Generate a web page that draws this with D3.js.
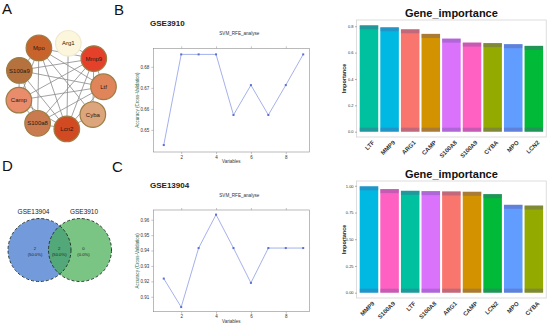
<!DOCTYPE html>
<html>
<head>
<meta charset="utf-8">
<script src="https://cdn.jsdelivr.net/npm/d3@7"></script>
<style>
  html, body { margin: 0; padding: 0; background: #fff; }
  text { font-family: "Liberation Sans", Arial, Helvetica, sans-serif; }
</style>
</head>
<body>
<div id="wrapper"></div>
<script>
// ---- data ----
const netNodes = ['Arg1', 'Mmp9', 'Ltf', 'Cyba', 'Lcn2', 'S100a8', 'Camp', 'S100a9', 'Mpo'];
const netColors = ['#fbf6dc', '#e5412a', '#e0845a', '#dca57c', '#d24a22', '#c97b4f', '#e88c6c', '#b5713e', '#c8632c'];
const netEdges = [
	['Arg1', 'Mmp9'], ['Arg1', 'Lcn2'],
	['Mmp9', 'Mpo'], ['Mmp9', 'Ltf'], ['Mmp9', 'Cyba'], ['Mmp9', 'Lcn2'], ['Mmp9', 'S100a8'], ['Mmp9', 'Camp'], ['Mmp9', 'S100a9'],
	['Lcn2', 'Mpo'], ['Lcn2', 'Ltf'], ['Lcn2', 'Cyba'], ['Lcn2', 'S100a8'], ['Lcn2', 'Camp'], ['Lcn2', 'S100a9'],
	['Mpo', 'Ltf'], ['Mpo', 'S100a8'], ['Mpo', 'Camp'], ['Mpo', 'S100a9'], ['Mpo', 'Cyba'],
	['S100a9', 'Ltf'], ['S100a9', 'S100a8'], ['S100a9', 'Camp'],
	['S100a8', 'Ltf'], ['S100a8', 'Camp'], ['Ltf', 'Camp']
];

const rfeVars = [1, 2, 3, 4, 5, 6, 7, 8, 9];
const accGSE3910 = [0.6428, 0.6859, 0.6859, 0.6859, 0.6571, 0.6713, 0.6571, 0.6713, 0.6859];
const accGSE13904 = [0.9218, 0.9033, 0.9416, 0.9633, 0.9416, 0.9190, 0.9416, 0.9416, 0.9416];

const genesTop = ['LTF', 'MMP9', 'ARG1', 'CAMP', 'S100A8', 'S100A9', 'CYBA', 'MPO', 'LCN2'];
const impTop = [0.807, 0.792, 0.777, 0.742, 0.706, 0.676, 0.672, 0.664, 0.651];
const genesBottom = ['MMP9', 'S100A9', 'LTF', 'S100A8', 'ARG1', 'CAMP', 'LCN2', 'MPO', 'CYBA'];
const impBottom = [0.995, 0.969, 0.953, 0.950, 0.947, 0.944, 0.922, 0.822, 0.815];
const geneColors = {
	ARG1: '#F8766D', CAMP: '#D39200', CYBA: '#93AA00', LCN2: '#00BA38', LTF: '#00C19F',
	MMP9: '#00B9E3', MPO: '#619CFF', S100A8: '#DB72FB', S100A9: '#FF61C3'
};

const vennSets = ['GSE13904', 'GSE3910'];
const vennCounts = [2, 2, 0];
const vennPct = ['(50.0%)', '(50.0%)', '(0.0%)'];

(() => {
	const svg = d3.select('#wrapper').append('svg')
		.attr('width', 550)
		.attr('height', 327)
		.style('display', 'block');
	svg.append('rect').attr('width', 550).attr('height', 327).attr('fill', '#fff');

	// panel letters
	[['A', 2, 14], ['B', 114, 15], ['C', 112, 172], ['D', 2, 171]].forEach(([t, x, y]) => {
		svg.append('text').attr('x', x).attr('y', y).attr('font-size', 15).attr('fill', '#111').text(t);
	});

	// ---- A: network ----
	const drawNetwork = () => {
		const g = svg.append('g');
		const cx = 60, cy = 86, R = 43.5;
		const angle = d3.scaleLinear().domain([0, netNodes.length]).range([-79 * Math.PI / 180, 281 * Math.PI / 180]);
		const pos = {};
		netNodes.forEach((n, i) => {
			pos[n] = { x: cx + R * Math.cos(angle(i)), y: cy + R * Math.sin(angle(i)), c: netColors[i], name: n };
		});
		g.selectAll('line')
			.data(netEdges)
			.enter()
			.append('line')
			.attr('x1', (d) => pos[d[0]].x)
			.attr('y1', (d) => pos[d[0]].y)
			.attr('x2', (d) => pos[d[1]].x)
			.attr('y2', (d) => pos[d[1]].y)
			.attr('stroke', '#8a8a8a')
			.attr('stroke-width', 0.8);
		const node = g.selectAll('g.node')
			.data(Object.values(pos))
			.enter()
			.append('g')
			.attr('transform', (d) => 'translate(' + d.x + ',' + d.y + ')');
		node.append('circle')
			.attr('r', 12.8)
			.attr('fill', (d) => d.c)
			.attr('stroke', (d) => d.name === 'Arg1' ? '#f1ead0' : '#9c7d45')
			.attr('stroke-width', 1.2);
		node.append('text')
			.attr('text-anchor', 'middle')
			.attr('dy', '0.35em')
			.attr('font-size', 6)
			.attr('fill', '#2a1a10')
			.text((d) => d.name);
	};

	// ---- B / C: RFE line charts ----
	const drawRfe = (values, title, setName, top, bottom, yDomain, yTicks) => {
		const left = 153.3, right = 309.3;
		const x = d3.scaleLinear().domain([0.4, 9.35]).range([left, right]);
		const y = d3.scaleLinear().domain(yDomain).range([bottom, top]);
		const g = svg.append('g');

		g.append('text').attr('x', 150).attr('y', top - 22).attr('font-size', 8)
			.attr('font-weight', 'bold').attr('fill', '#222').text(setName);
		g.append('text').attr('x', (left + right) / 2 + 8).attr('y', top - 13).attr('font-size', 4.6)
			.attr('text-anchor', 'middle').attr('fill', '#333').text(title);

		g.append('rect').attr('x', left).attr('y', top).attr('width', right - left).attr('height', bottom - top)
			.attr('fill', 'none').attr('stroke', '#8c8c8c').attr('stroke-width', 0.6);

		const yAxis = g.append('g').attr('transform', 'translate(' + left + ',0)')
			.call(d3.axisLeft(y).tickValues(yTicks).tickFormat(d3.format('.2f')).tickSize(2).tickPadding(2));
		const xAxis = g.append('g').attr('transform', 'translate(0,' + bottom + ')')
			.call(d3.axisBottom(x).tickValues([2, 4, 6, 8]).tickSize(2).tickPadding(1.5));
		const xTop = g.append('g').attr('transform', 'translate(0,' + top + ')')
			.call(d3.axisTop(x).tickValues([2, 4, 6, 8]).tickSize(2).tickFormat(''));
		[yAxis, xAxis, xTop].forEach((a) => {
			a.select('.domain').remove();
			a.selectAll('line').attr('stroke', '#8c8c8c').attr('stroke-width', 0.5);
			a.selectAll('text').attr('font-size', 4.5).attr('fill', '#333')
				.style('font-family', '"Liberation Sans", Arial, sans-serif');
		});

		g.append('text').attr('x', (left + right) / 2).attr('y', bottom + 11).attr('font-size', 4.5)
			.attr('text-anchor', 'middle').attr('fill', '#333').text('Variables');
		g.append('text')
			.attr('transform', 'translate(' + (left - 14) + ',' + ((top + bottom) / 2) + ') rotate(-90)')
			.attr('font-size', 4.5).attr('text-anchor', 'middle').attr('fill', '#2f6a4a')
			.text('Accuracy (Cross-Validation)');

		const line = d3.line().x((d, i) => x(rfeVars[i])).y((d) => y(d));
		g.append('path').datum(values).attr('d', line)
			.attr('fill', 'none').attr('stroke', '#8d9de6').attr('stroke-width', 0.8);
		g.selectAll('rect.pt')
			.data(values)
			.enter()
			.append('rect')
			.attr('x', (d, i) => x(rfeVars[i]) - 1)
			.attr('y', (d) => y(d) - 1)
			.attr('width', 2).attr('height', 2)
			.attr('fill', '#5b6fd0');
	};

	// ---- bar charts ----
	const drawBars = (genes, values, top, bottom, ticks, fmt) => {
		const left = 356.6, right = 546.2;
		const maxV = d3.max(values);
		const x = d3.scaleBand().domain(genes).range([left, right]).paddingInner(0.1).paddingOuter(0.15);
		const y = d3.scaleLinear().domain([-0.05 * maxV, 1.05 * maxV]).range([bottom, top]);
		const g = svg.append('g');

		g.append('text').attr('x', (left + right) / 2).attr('y', top - 3).attr('font-size', 11)
			.attr('font-weight', 'bold').attr('text-anchor', 'middle').attr('fill', '#111').text('Gene_importance');

		g.selectAll('rect.bar')
			.data(genes)
			.enter()
			.append('rect')
			.attr('x', (d) => x(d))
			.attr('y', (d, i) => y(values[i]))
			.attr('width', x.bandwidth())
			.attr('height', (d, i) => y(0) - y(values[i]))
			.attr('fill', (d) => geneColors[d]);
		// darker tinted bands at bar top and bottom
		g.selectAll('rect.bandTop')
			.data(genes)
			.enter()
			.append('rect')
			.attr('x', (d) => x(d))
			.attr('y', (d, i) => y(values[i]))
			.attr('width', x.bandwidth())
			.attr('height', 4)
			.attr('fill', 'rgba(95,80,150,0.35)');
		g.selectAll('rect.bandBot')
			.data(genes)
			.enter()
			.append('rect')
			.attr('x', (d) => x(d))
			.attr('y', y(0) - 4)
			.attr('width', x.bandwidth())
			.attr('height', 4)
			.attr('fill', 'rgba(95,80,150,0.35)');

		g.append('rect').attr('x', left).attr('y', top).attr('width', right - left).attr('height', bottom - top)
			.attr('fill', 'none').attr('stroke', '#cfcfcf').attr('stroke-width', 0.7);

		const yAxis = g.append('g').attr('transform', 'translate(' + left + ',0)')
			.call(d3.axisLeft(y).tickValues(ticks).tickFormat(d3.format(fmt)).tickSize(1.5).tickPadding(1.5));
		yAxis.select('.domain').remove();
		yAxis.selectAll('line').attr('stroke', '#444').attr('stroke-width', 0.5);
		yAxis.selectAll('text').attr('font-size', 4).attr('fill', '#333')
			.style('font-family', '"Liberation Sans", Arial, sans-serif');

		g.append('text')
			.attr('transform', 'translate(' + (left - 11) + ',' + ((top + bottom) / 2) + ') rotate(-90)')
			.attr('font-size', 5.5).attr('font-weight', 'bold').attr('text-anchor', 'middle').attr('fill', '#222')
			.text('Importance');

		g.selectAll('text.lab')
			.data(genes)
			.enter()
			.append('text')
			.attr('transform', (d) => 'translate(' + (x(d) + x.bandwidth() / 2 + 3) + ',' + (bottom + 3) + ') rotate(-45)')
			.attr('text-anchor', 'end')
			.attr('dy', '0.7em')
			.attr('font-size', 6)
			.attr('font-weight', 'bold')
			.attr('fill', '#333')
			.text((d) => d);
	};

	// ---- D: venn ----
	const drawVenn = () => {
		const g = svg.append('g');
		const cy = 250, r = 31.5;
		const cxs = d3.scaleLinear().domain([0, 1]).range([39.5, 80]);
		const fills = ['#5a8ad6', '#47ad55'];
		const ops = [0.85, 0.72];
		vennSets.forEach((s, i) => {
			g.append('circle').attr('cx', cxs(i)).attr('cy', cy).attr('r', r)
				.attr('fill', fills[i]).attr('fill-opacity', ops[i]);
		});
		vennSets.forEach((s, i) => {
			g.append('circle').attr('cx', cxs(i)).attr('cy', cy).attr('r', r)
				.attr('fill', 'none').attr('stroke', '#1c2a22').attr('stroke-width', 0.9)
				.attr('stroke-dasharray', '3,2');
			g.append('text').attr('x', cxs(i) - 6 + 10 * i).attr('y', 214).attr('font-size', 6.5)
				.attr('text-anchor', 'middle').attr('fill', '#222').text(s);
		});
		const rx = d3.scaleLinear().domain([0, 2]).range([35, 83.5]);
		vennCounts.forEach((c, i) => {
			g.append('text').attr('x', rx(i)).attr('y', 250).attr('font-size', 4.2)
				.attr('text-anchor', 'middle').attr('fill', '#222').text(c);
			g.append('text').attr('x', rx(i)).attr('y', 256).attr('font-size', 4.2)
				.attr('text-anchor', 'middle').attr('fill', '#222').text(vennPct[i]);
		});
	};

	drawNetwork();
	drawRfe(accGSE3910, 'SVM_RFE_analyse', 'GSE3910', 48.3, 152, [0.6395, 0.6888], [0.65, 0.66, 0.67, 0.68]);
	drawRfe(accGSE13904, 'SVM_RFE_analyse', 'GSE13904', 210, 311.7, [0.9003, 0.9663], [0.91, 0.92, 0.93, 0.94, 0.95, 0.96]);
	drawBars(genesTop, impTop, 20, 137, [0, 0.2, 0.4, 0.6, 0.8], '.1f');
	drawBars(genesBottom, impBottom, 181, 298, [0, 0.25, 0.5, 0.75, 1], '.2f');
	drawVenn();
})();
</script>
</body>
</html>
